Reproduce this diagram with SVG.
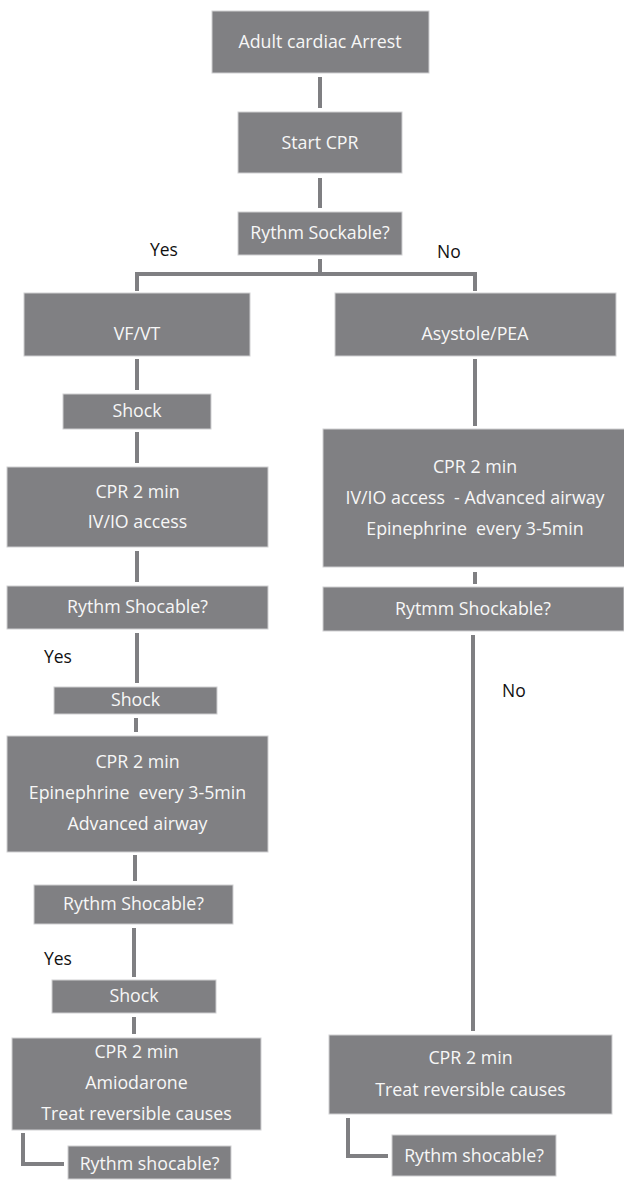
<svg xmlns="http://www.w3.org/2000/svg" width="624" height="1180" viewBox="0 0 624 1180">
<style>
.box{fill:#808083;stroke:#cfcfd1;stroke-width:1}
.t{font-family:"Open Sans","Liberation Sans",Arial,sans-serif;font-size:17.8px;fill:#f7f7f7;text-anchor:middle}
.lbl{font-family:"Open Sans","Liberation Sans",Arial,sans-serif;font-size:17.5px;fill:#111}
.c{stroke:#7f7f82;stroke-width:4;fill:none}
</style>
<rect width="624" height="1180" fill="#ffffff"/>
<g id="connectors">
<path class="c" d="M320 77V108M320 178V208M320 259V274M135 274H477M137 272V291M475 272V291"/>
<path class="c" d="M137 359V390M137 432V463M137 551V582M137 633V683M136 718V732M135 855V881M134 928V977M134 1017V1034"/>
<path class="c" d="M23 1133V1164H64"/>
<path class="c" d="M475 359V426M475 572V584M473 635V1031"/>
<path class="c" d="M348 1118V1156H388"/>
</g>
<g id="labels">
<text class="lbl" x="150" y="256">Yes</text>
<text class="lbl" x="437" y="258">No</text>
<text class="lbl" x="44" y="663">Yes</text>
<text class="lbl" x="44" y="965">Yes</text>
<text class="lbl" x="502" y="697">No</text>
</g>
<g id="n1"><rect class="box" x="212" y="11" width="217" height="62"/><text class="t" x="320" y="48">Adult cardiac Arrest</text></g>
<g id="n2"><rect class="box" x="238" y="112" width="164" height="61"/><text class="t" x="320" y="149">Start CPR</text></g>
<g id="n3"><rect class="box" x="238" y="212" width="164" height="43"/><text class="t" x="320" y="239">Rythm Sockable?</text></g>
<g id="n4"><rect class="box" x="24" y="293" width="226" height="63"/><text class="t" x="137" y="340">VF/VT</text></g>
<g id="n5"><rect class="box" x="335" y="293" width="281" height="63"/><text class="t" x="475" y="340">Asystole/PEA</text></g>
<g id="n6"><rect class="box" x="63" y="394" width="148" height="35"/><text class="t" x="137" y="417">Shock</text></g>
<g id="n7"><rect class="box" x="7" y="467" width="261" height="80"/><text class="t" x="137.5" y="498">CPR 2 min</text><text class="t" x="137.5" y="528">IV/IO access</text></g>
<g id="n8"><rect class="box" x="323" y="429" width="302" height="138"/><text class="t" x="475" y="473">CPR 2 min</text><text class="t" x="475" y="504" xml:space="preserve">IV/IO access  - Advanced airway</text><text class="t" x="475" y="535" xml:space="preserve">Epinephrine  every 3-5min</text></g>
<g id="n9"><rect class="box" x="7" y="586" width="261" height="43"/><text class="t" x="137.5" y="613">Rythm Shocable?</text></g>
<g id="n10"><rect class="box" x="323" y="587" width="301" height="44"/><text class="t" x="473" y="615">Rytmm Shockable?</text></g>
<g id="n11"><rect class="box" x="54" y="687" width="163" height="27"/><text class="t" x="135.5" y="706">Shock</text></g>
<g id="n12"><rect class="box" x="7" y="736" width="261" height="116"/><text class="t" x="137.5" y="768">CPR 2 min</text><text class="t" x="137.5" y="799" xml:space="preserve">Epinephrine  every 3-5min</text><text class="t" x="137.5" y="830">Advanced airway</text></g>
<g id="n13"><rect class="box" x="34" y="885" width="199" height="39"/><text class="t" x="133.5" y="910">Rythm Shocable?</text></g>
<g id="n14"><rect class="box" x="52" y="980" width="164" height="33"/><text class="t" x="134" y="1002">Shock</text></g>
<g id="n15"><rect class="box" x="12" y="1038" width="249" height="92"/><text class="t" x="136.5" y="1058">CPR 2 min</text><text class="t" x="136.5" y="1089">Amiodarone</text><text class="t" x="136.5" y="1120">Treat reversible causes</text></g>
<g id="n16"><rect class="box" x="68" y="1146" width="163" height="33"/><text class="t" x="149.5" y="1170">Rythm shocable?</text></g>
<g id="n17"><rect class="box" x="329" y="1035" width="283" height="79"/><text class="t" x="470.5" y="1064">CPR 2 min</text><text class="t" x="470.5" y="1096">Treat reversible causes</text></g>
<g id="n18"><rect class="box" x="392" y="1135" width="164" height="41"/><text class="t" x="474" y="1162">Rythm shocable?</text></g>
</svg>
